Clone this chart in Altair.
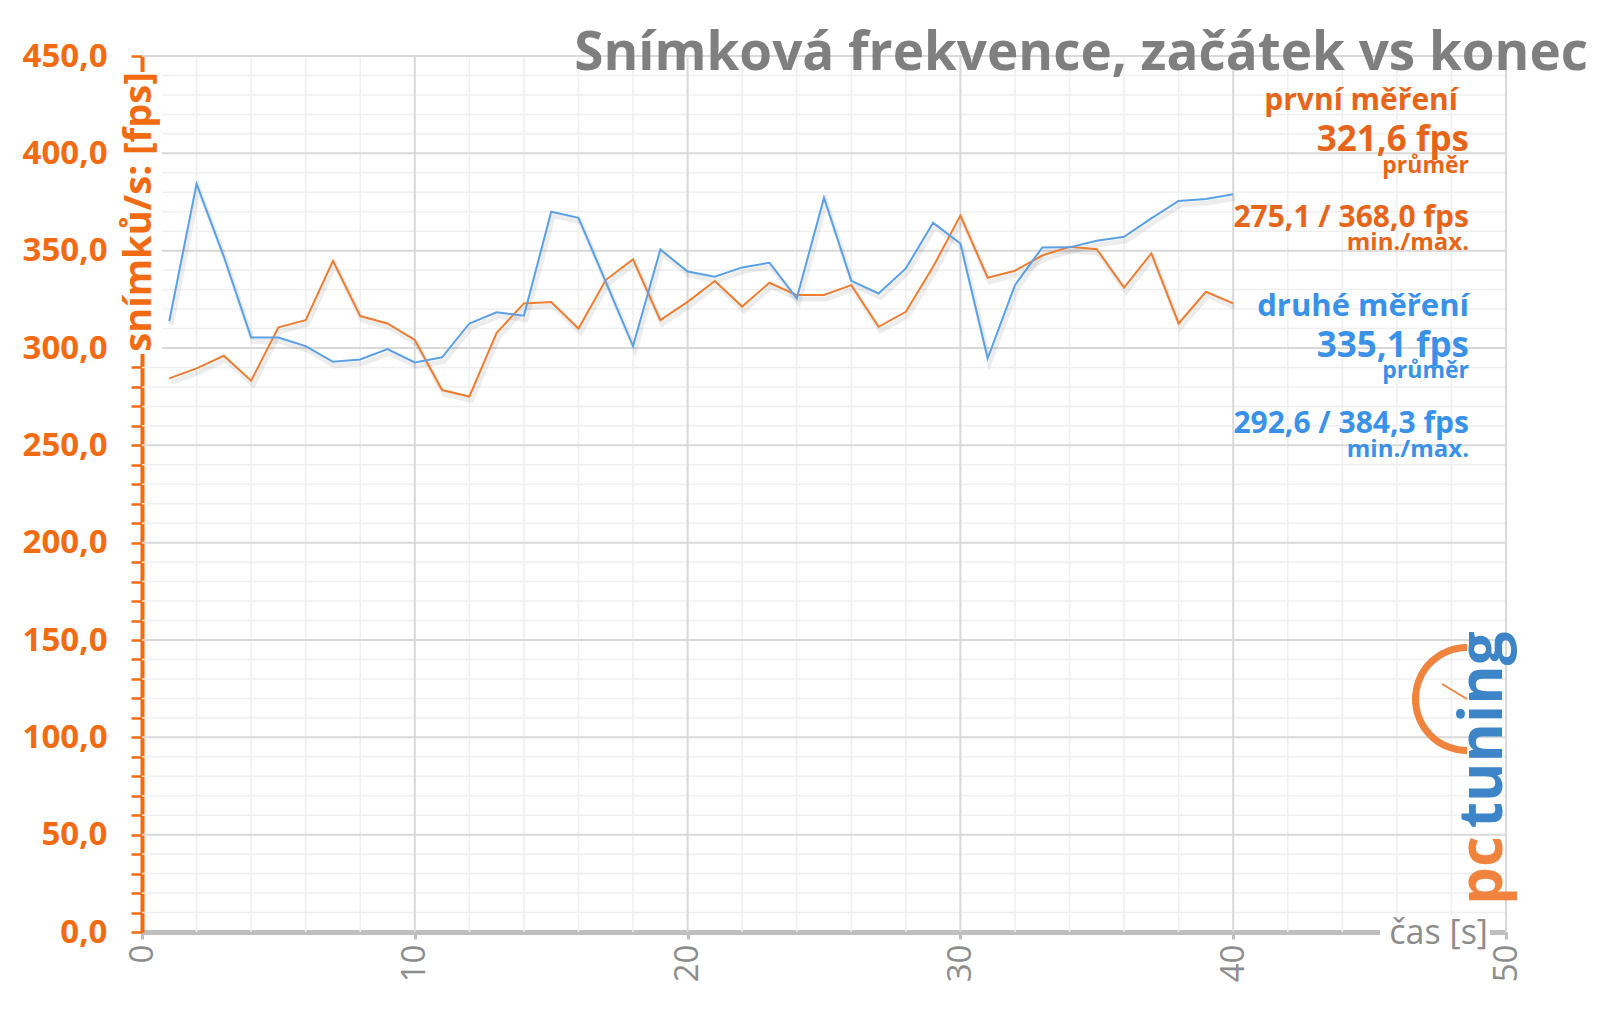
import math
import altair as alt
import pandas as pd

FONT = "Open Sans"

# ---------------- data ----------------
seconds = list(range(1, 41))
prvni_mereni = [284.4, 289.5, 296.0, 283.2, 310.6, 314.3, 344.8, 316.4, 312.6, 304.1,
                278.4, 275.1, 307.8, 322.9, 323.6, 310.0, 334.9, 345.5, 314.3, 323.7,
                334.4, 321.3, 333.5, 327.2, 327.2, 332.3, 310.9, 318.6, 341.7, 368.0,
                336.1, 339.7, 347.5, 352.0, 350.7, 331.0, 348.6, 312.6, 328.9, 322.9]
druhe_mereni = [313.8, 384.3, 347.0, 305.4, 305.4, 301.0, 292.9, 294.1, 299.4, 292.6,
                295.2, 312.6, 318.3, 316.6, 370.0, 366.9, 334.0, 301.0, 350.6, 339.3,
                336.6, 341.4, 343.8, 325.5, 377.2, 334.5, 328.0, 340.9, 364.3, 353.7,
                294.7, 332.3, 351.6, 351.7, 355.1, 357.1, 366.6, 375.5, 376.5, 379.0]
series_names = ["první měření", "druhé měření"]

title_text = "Snímková frekvence, začátek vs konec"
y_title = "snímků/s: [fps]"
x_title = "čas [s]"
prvni_texts = ["první měření", "321,6 fps", "průměr", "275,1 / 368,0 fps", "min./max."]
druhe_texts = ["druhé měření", "335,1 fps", "průměr", "292,6 / 384,3 fps", "min./max."]
logo_texts = ["pc", "tuning"]

y_ticks = list(range(0, 451, 10))
y_major = list(range(50, 451, 50))
y_minor = [v for v in range(10, 450, 10) if v % 50]
x_ticks = [0, 10, 20, 30, 40, 50]
x_major = [10, 20, 30, 40, 50]
x_minor = [v for v in range(2, 50, 2) if v % 10]

# ---------------- styles ----------------
ORANGE_AXIS = "#F26B12"
ORANGE_TXT = "#E5661A"
BLUE_TXT = "#3A92E8"
ORANGE_LINE = "#ED7D31"
BLUE_LINE = "#5AA0E6"
GREY = "#7f7f7f"
W, H = 1364, 876

df = pd.DataFrame({
    "t": seconds * 2,
    "fps": prvni_mereni + druhe_mereni,
    "serie": [n for n in series_names for _ in seconds],
})

x_scale = alt.Scale(domain=[0, 50], nice=False, zero=True)
y_scale = alt.Scale(domain=[0, 450], nice=False, zero=True)

x_axis = alt.Axis(
    values=x_ticks, title=None, grid=False, labelAngle=270,
    labelFont=FONT, labelFontSize=33, labelFontWeight="normal", labelColor="#8c8c8c",
    labelPadding=5, tickSize=7, tickWidth=3, tickColor="#bfbfbf",
    domainColor="#bfbfbf", domainWidth=5, labelFlush=False, labelOverlap=False)
y_axis = alt.Axis(
    values=y_ticks, title=None, grid=False,
    labelExpr="datum.value % 50 === 0 ? replace(format(datum.value, '.1f'), '.', ',') : ''",
    labelFont=FONT, labelFontSize=33, labelFontWeight="bold", labelColor=ORANGE_AXIS,
    labelPadding=24, tickSize=11, tickWidth=2.5, tickColor=ORANGE_AXIS,
    domainColor=ORANGE_AXIS, domainWidth=4, labelOverlap=False, labelFlush=False)


def hrule(values, color, width):
    return alt.Chart(pd.DataFrame({"v": values})).mark_rule(color=color, strokeWidth=width).encode(
        y=alt.Y("v:Q", scale=y_scale, axis=y_axis))


def vrule(values, color, width):
    return alt.Chart(pd.DataFrame({"v": values})).mark_rule(color=color, strokeWidth=width).encode(
        x=alt.X("v:Q", scale=x_scale, axis=x_axis))


def label(text, x, y, size, color, weight="bold", align="right", angle=0, baseline="alphabetic"):
    return alt.Chart(pd.DataFrame({"s": [text]})).mark_text(
        align=align, baseline=baseline, fontSize=size, fontWeight=weight,
        color=color, angle=angle, font=FONT
    ).encode(x=alt.value(x), y=alt.value(y), text="s:N")


def box(x1, x2, y1, y2):
    return alt.Chart(pd.DataFrame({"a": [0]})).mark_rect(color="white").encode(
        x=alt.value(x1), x2=alt.value(x2), y=alt.value(y1), y2=alt.value(y2))


grids = [
    hrule(y_minor, "#efefef", 1.5),
    vrule(x_minor, "#efefef", 1.5),
    hrule(y_major, "#d9d9d9", 2),
    vrule(x_major, "#d9d9d9", 2),
]

color_scale = alt.Scale(domain=series_names, range=[ORANGE_LINE, BLUE_LINE])

shadow = alt.Chart(df).mark_line(strokeWidth=5, opacity=0.07, xOffset=2, yOffset=4, color="#000000").encode(
    x=alt.X("t:Q", scale=x_scale, axis=x_axis),
    y=alt.Y("fps:Q", scale=y_scale, axis=y_axis),
    detail="serie:N",
)

lines = alt.Chart(df).mark_line(strokeWidth=2).encode(
    x=alt.X("t:Q", scale=x_scale, axis=x_axis),
    y=alt.Y("fps:Q", scale=y_scale, axis=y_axis),
    color=alt.Color("serie:N", scale=color_scale, legend=None),
)

# white boxes behind axis titles (hide axis line as in original)
decor = [
    box(-24, 20, 16, 298),
    box(1238, 1348, 860, 896),
]

texts = [
    label(title_text, 1446, 14, 53, GREY),
    label(y_title, -2, 156, 38, ORANGE_AXIS, angle=270, align="center", baseline="middle"),
    label(x_title, 1346, 878, 34, "#8c8c8c", weight="normal", baseline="middle"),
    label(prvni_texts[0], 1316, 54, 30, ORANGE_TXT),
    label(prvni_texts[1], 1327, 95, 35, ORANGE_TXT),
    label(prvni_texts[2], 1327, 117, 23, ORANGE_TXT),
    label(prvni_texts[3], 1327, 171, 30, ORANGE_TXT),
    label(prvni_texts[4], 1327, 194, 24, ORANGE_TXT),
    label(druhe_texts[0], 1327, 260, 31, BLUE_TXT),
    label(druhe_texts[1], 1327, 301, 35, BLUE_TXT),
    label(druhe_texts[2], 1327, 322, 23, BLUE_TXT),
    label(druhe_texts[3], 1327, 377, 30, BLUE_TXT),
    label(druhe_texts[4], 1327, 401, 24, BLUE_TXT),
]

# logo
logo = [
    alt.Chart(pd.DataFrame({"a": [0]})).mark_arc(
        color="#F0843E", radius=55, radius2=48, theta=math.pi, theta2=2 * math.pi
    ).encode(x=alt.value(1325), y=alt.value(643)),
    alt.Chart(pd.DataFrame({"a": [0]})).mark_rule(color="#F0843E", strokeWidth=2).encode(
        x=alt.value(1300), x2=alt.value(1325), y=alt.value(628), y2=alt.value(643)),
    label(logo_texts[0], 1342, 849, 60, "#F0843E", weight="bold", align="left", angle=270, baseline="middle"),
    label(logo_texts[1], 1342, 772, 60, "#3D85C6", weight="bold", align="left", angle=270, baseline="middle"),
]

chart = alt.layer(*grids, shadow, lines, *decor, *logo, *texts).properties(
    width=W, height=H,
    padding={"left": 134, "top": 48, "right": 86, "bottom": 70},
    autosize=alt.AutoSizeParams(type="none"),
    background="white",
).configure_view(stroke=None).configure(font=FONT)

chart.save("out.html", embed_options={"renderer": "svg", "actions": False})
